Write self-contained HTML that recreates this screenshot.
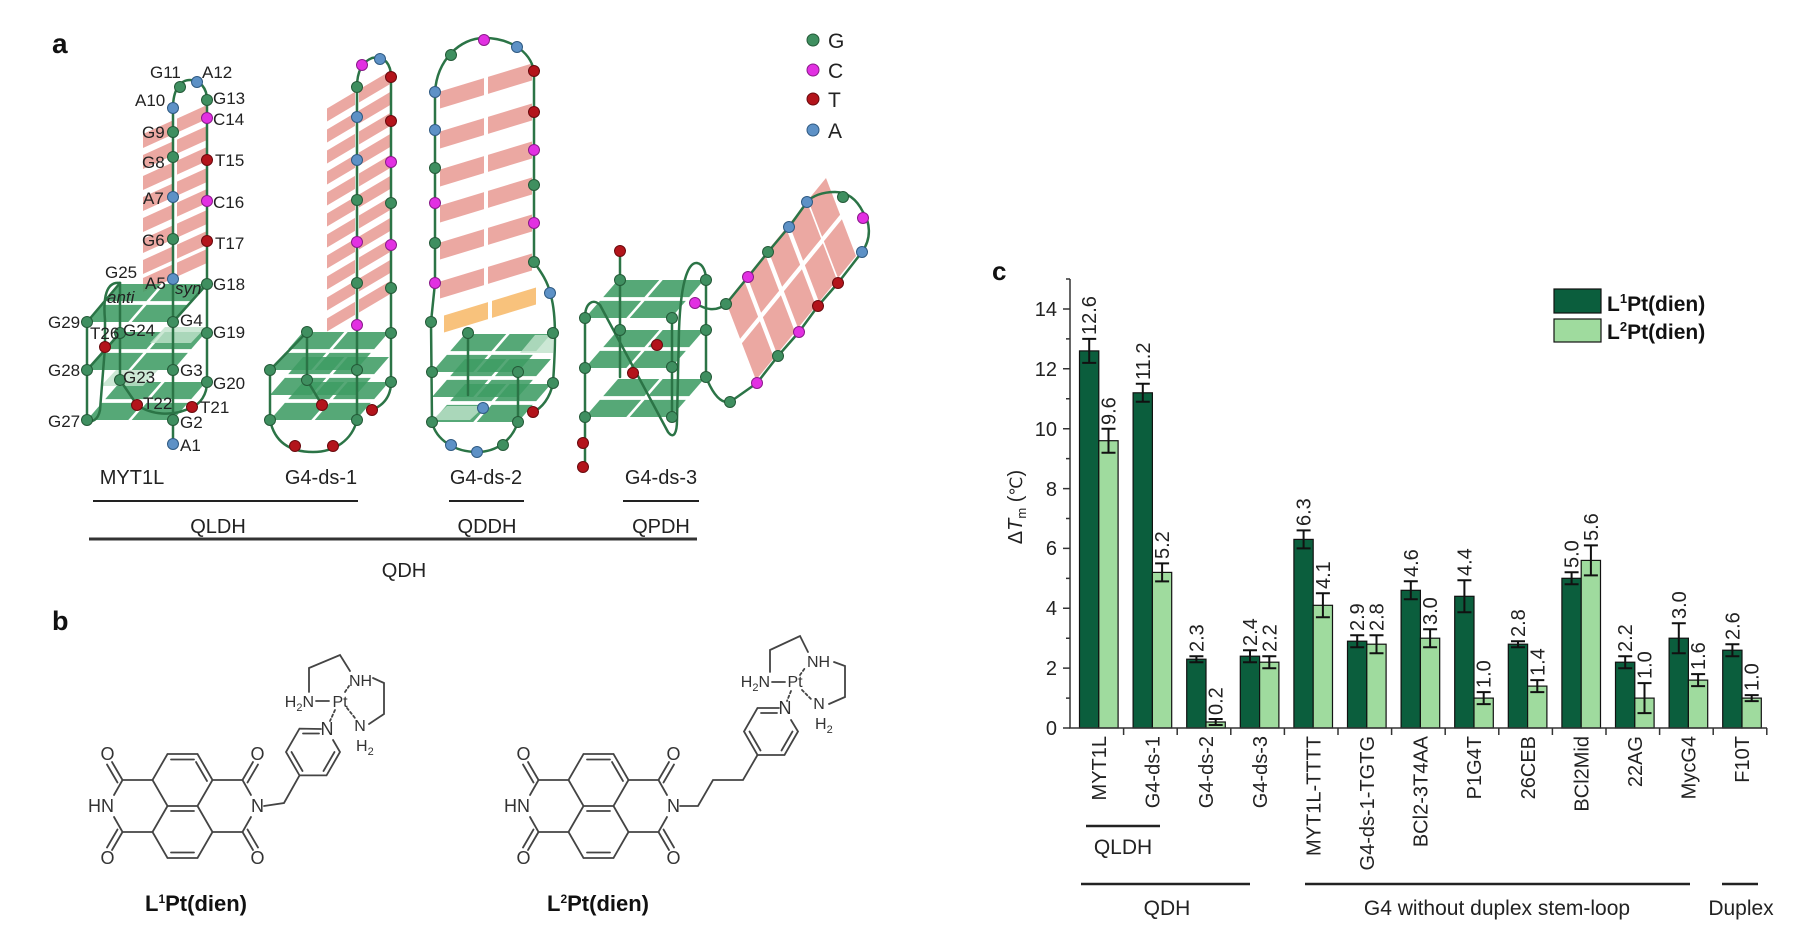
<!DOCTYPE html>
<html><head><meta charset="utf-8">
<style>
html,body{margin:0;padding:0;background:#fff;}
svg{display:block;font-family:"Liberation Sans","DejaVu Sans","Noto Sans CJK SC",sans-serif;}
.s{fill:none;stroke:#2b7446;stroke-width:2.5;stroke-linejoin:round;stroke-linecap:round}
.g{fill:#3f8f60;stroke:#245a38;stroke-width:1}
.c{fill:#e230e2;stroke:#8a1a8a;stroke-width:1}
.t{fill:#b3141b;stroke:#6a0a0e;stroke-width:1}
.a{fill:#5d91c6;stroke:#2f5a82;stroke-width:1}
.pk{fill:#eba8a2}
.lb{font-size:17px;fill:#222}
.bd{fill:none;stroke:#444;stroke-width:1.8;stroke-linecap:round}
.at{font-size:18px;fill:#333}
.pt{font-size:16px;fill:#333}
.d{fill:#0b5e3d;stroke:#111;stroke-width:1.2}
.l{fill:#9fdb9e;stroke:#111;stroke-width:1.2}
.vl{font-size:20px;fill:#222}
.cl{font-size:20px;fill:#222}
.eb{fill:none;stroke:#111;stroke-width:2}
</style></head>
<body>
<svg width="1816" height="941" viewBox="0 0 1816 941" xmlns="http://www.w3.org/2000/svg">
<defs>
<g id="tet">
<polygon points="0,0 41.3,0 56.2,-17.1 14.9,-17.1"/>
<polygon points="44.7,0 86,0 100.9,-17.1 59.6,-17.1"/>
<polygon points="18.2,-20.9 59.4,-20.9 74.3,-38 33,-38"/>
<polygon points="62.9,-20.9 104.2,-20.9 119,-38 77.7,-38"/>
</g>
<g id="bM"><polygon points="143,22 173,8.4 173,22.4 143,36"/><polygon points="177,6.6 207,-7 207,7 177,20.6"/></g>
<g id="bD1"><polygon points="327,31.5 355,14.9 355,27.9 327,44.5"/><polygon points="359,12.5 391,-6.5 391,6.5 359,25.5"/></g>
<g id="bD2"><polygon points="440,19.5 484,6.1 484,23.1 440,36.5"/><polygon points="488,4.9 532,-8.5 532,8.5 488,21.9"/></g>
<g id="bD3"><polygon points="0,0 18,-22 32.1,14.7 14.1,36.7"/><polygon points="15.9,41.3 33.9,19.3 48,56 30,78"/></g>
</defs>

<!-- ============ PANEL A ============ -->
<text x="52" y="53" font-size="28" font-weight="bold" fill="#111">a</text>

<!-- pink duplexes -->
<g class="pk">
<use href="#bM" transform="translate(0,112)"/>
<use href="#bM" transform="translate(0,133)"/>
<use href="#bM" transform="translate(0,154)"/>
<use href="#bM" transform="translate(0,175)"/>
<use href="#bM" transform="translate(0,196)"/>
<use href="#bM" transform="translate(0,217)"/>
<use href="#bM" transform="translate(0,238)"/>
<use href="#bM" transform="translate(0,256)"/>
<use href="#bD1" transform="translate(0,77)"/>
<use href="#bD1" transform="translate(0,98)"/>
<use href="#bD1" transform="translate(0,119)"/>
<use href="#bD1" transform="translate(0,140)"/>
<use href="#bD1" transform="translate(0,161)"/>
<use href="#bD1" transform="translate(0,182)"/>
<use href="#bD1" transform="translate(0,203)"/>
<use href="#bD1" transform="translate(0,224)"/>
<use href="#bD1" transform="translate(0,245)"/>
<use href="#bD1" transform="translate(0,266)"/>
<use href="#bD1" transform="translate(0,287)"/>
<use href="#bD2" transform="translate(0,72)"/>
<use href="#bD2" transform="translate(0,112)"/>
<use href="#bD2" transform="translate(0,150)"/>
<use href="#bD2" transform="translate(0,186)"/>
<use href="#bD2" transform="translate(0,223)"/>
<use href="#bD2" transform="translate(0,262)"/>
<use href="#bD3" transform="translate(726,302)"/>
<use href="#bD3" transform="translate(747,276)"/>
<use href="#bD3" transform="translate(768,250)"/>
<use href="#bD3" transform="translate(789,224)"/>
<use href="#bD3" transform="translate(808,200)"/>
</g>
<use href="#bD2" transform="translate(4,296)" fill="#f8c27c"/>

<!-- tetrads -->
<g fill="#3f9c64" fill-opacity="0.88">
<use href="#tet" transform="translate(87,322)"/>
<use href="#tet" transform="translate(87,370)"/>
<use href="#tet" transform="translate(87,420)"/>
<use href="#tet" transform="translate(270,370)"/>
<use href="#tet" transform="translate(270,395)"/>
<use href="#tet" transform="translate(270,420)"/>
<use href="#tet" transform="translate(432,372)"/>
<use href="#tet" transform="translate(432,397)"/>
<use href="#tet" transform="translate(432,422)"/>
<use href="#tet" transform="translate(585,318)"/>
<use href="#tet" transform="translate(585,368)"/>
<use href="#tet" transform="translate(585,417)"/>
</g>
<g fill="#bfe2cb" fill-opacity="0.8">
<polygon points="101,386 143,386 158,370 116,370"/>
<polygon points="150,343 191,343 206,327 165,327"/>
<polygon points="520,353 553,353 553,335 535,335"/>
<polygon points="432,420 470,420 485,406 447,406"/>
</g>

<!-- strands -->
<g class="s">
<path d="M173,444 L173,108 C173,90 180,80 190,80 C200,80 207,88 207,100 L207,382 C207,395 200,404 192,407"/>
<path d="M192,407 C172,418 150,414 137,405 L120,380 L120,283"/>
<path d="M120,283 C106,281 103,298 105,320 L105,347 L100,410 C98,420 92,423 87,420 L87,322"/>
<path d="M87,322 L120,283 M87,370 L120,333 M173,322 L207,284"/>
<path d="M357,420 L357,87 C357,72 362,62 372,58 C385,55 391,65 391,77 L391,382 C391,396 384,405 372,410"/>
<path d="M270,370 L270,420 C275,444 292,452 313,452 C335,452 352,440 357,420"/>
<path d="M270,370 L307,332 L307,380 M307,380 L322,405"/>
<path d="M432,422 L431,322 L435,283 L435,92 C437,60 460,38 484,38 C508,38 530,50 534,71 L534,262 C541,272 548,282 550,293 C556,310 556,340 553,383 C550,398 542,408 533,412"/>
<path d="M432,422 C436,440 455,452 477,452 C497,452 512,440 518,422 L518,372 M468,333 L468,395"/>
<path d="M620,251 L620,377 M585,318 L585,467 M672,318 L672,417 M706,280 L706,377"/>
<path d="M585,318 C585,303 593,298 600,305 L668,432 C674,440 677,432 677,420 L679,330 C681,275 690,262 697,263 C703,264 706,272 706,280"/>
<path d="M706,377 C712,392 720,404 730,402 L757,383 L778,356 L799,332 L818,306 L838,283 L862,252 C872,238 870,222 863,212 C856,198 846,192 835,192 C822,192 812,196 807,202 L789,227 L768,252 L748,277 L726,304 C716,312 706,310 695,303"/>
</g>

<!-- nodes MYT1L -->
<g>
<circle cx="173" cy="444" r="5.5" class="a"/><circle cx="173" cy="420" r="5.5" class="g"/>
<circle cx="173" cy="370" r="5.5" class="g"/><circle cx="173" cy="322" r="5.5" class="g"/>
<circle cx="173" cy="279" r="5.5" class="a"/><circle cx="173" cy="239" r="5.5" class="g"/>
<circle cx="173" cy="197" r="5.5" class="a"/><circle cx="173" cy="157" r="5.5" class="g"/>
<circle cx="173" cy="132" r="5.5" class="g"/><circle cx="173" cy="108" r="5.5" class="a"/>
<circle cx="180" cy="87" r="5.5" class="g"/><circle cx="197" cy="82" r="5.5" class="a"/>
<circle cx="207" cy="100" r="5.5" class="g"/><circle cx="207" cy="118" r="5.5" class="c"/>
<circle cx="207" cy="160" r="5.5" class="t"/><circle cx="207" cy="201" r="5.5" class="c"/>
<circle cx="207" cy="241" r="5.5" class="t"/><circle cx="207" cy="284" r="5.5" class="g"/>
<circle cx="207" cy="333" r="5.5" class="g"/><circle cx="207" cy="382" r="5.5" class="g"/>
<circle cx="192" cy="407" r="5.5" class="t"/><circle cx="137" cy="405" r="5.5" class="t"/>
<circle cx="120" cy="380" r="5.5" class="g"/><circle cx="120" cy="333" r="5.5" class="g"/>
<circle cx="105" cy="347" r="5.5" class="t"/>
<circle cx="87" cy="420" r="5.5" class="g"/><circle cx="87" cy="370" r="5.5" class="g"/>
<circle cx="87" cy="322" r="5.5" class="g"/>
</g>
<!-- nodes G4-ds-1 -->
<g>
<circle cx="357" cy="87" r="5.5" class="g"/><circle cx="357" cy="117" r="5.5" class="a"/>
<circle cx="357" cy="160" r="5.5" class="a"/><circle cx="357" cy="200" r="5.5" class="g"/>
<circle cx="357" cy="242" r="5.5" class="c"/><circle cx="357" cy="283" r="5.5" class="g"/>
<circle cx="357" cy="325" r="5.5" class="c"/><circle cx="357" cy="370" r="5.5" class="g"/>
<circle cx="357" cy="420" r="5.5" class="g"/>
<circle cx="362" cy="65" r="5.5" class="c"/><circle cx="380" cy="59" r="5.5" class="a"/>
<circle cx="391" cy="77" r="5.5" class="t"/><circle cx="391" cy="121" r="5.5" class="t"/>
<circle cx="391" cy="162" r="5.5" class="c"/><circle cx="391" cy="203" r="5.5" class="g"/>
<circle cx="391" cy="245" r="5.5" class="c"/><circle cx="391" cy="288" r="5.5" class="g"/>
<circle cx="391" cy="333" r="5.5" class="g"/><circle cx="391" cy="382" r="5.5" class="g"/>
<circle cx="270" cy="370" r="5.5" class="g"/><circle cx="270" cy="420" r="5.5" class="g"/>
<circle cx="307" cy="332" r="5.5" class="g"/><circle cx="307" cy="380" r="5.5" class="g"/>
<circle cx="295" cy="446" r="5.5" class="t"/><circle cx="333" cy="446" r="5.5" class="t"/>
<circle cx="322" cy="405" r="5.5" class="t"/><circle cx="372" cy="410" r="5.5" class="t"/>
</g>
<!-- nodes G4-ds-2 -->
<g>
<circle cx="435" cy="92" r="5.5" class="a"/><circle cx="435" cy="130" r="5.5" class="a"/>
<circle cx="435" cy="168" r="5.5" class="g"/><circle cx="435" cy="203" r="5.5" class="c"/>
<circle cx="435" cy="243" r="5.5" class="g"/><circle cx="435" cy="283" r="5.5" class="c"/>
<circle cx="431" cy="322" r="5.5" class="g"/><circle cx="432" cy="372" r="5.5" class="g"/>
<circle cx="432" cy="422" r="5.5" class="g"/>
<circle cx="451" cy="55" r="5.5" class="g"/><circle cx="484" cy="40" r="5.5" class="c"/>
<circle cx="517" cy="47" r="5.5" class="a"/><circle cx="534" cy="71" r="5.5" class="t"/>
<circle cx="534" cy="112" r="5.5" class="t"/><circle cx="534" cy="150" r="5.5" class="c"/>
<circle cx="534" cy="185" r="5.5" class="g"/><circle cx="534" cy="223" r="5.5" class="c"/>
<circle cx="534" cy="262" r="5.5" class="g"/><circle cx="550" cy="293" r="5.5" class="a"/>
<circle cx="553" cy="333" r="5.5" class="g"/><circle cx="553" cy="383" r="5.5" class="g"/>
<circle cx="533" cy="412" r="5.5" class="t"/><circle cx="518" cy="422" r="5.5" class="g"/>
<circle cx="503" cy="445" r="5.5" class="g"/><circle cx="477" cy="452" r="5.5" class="a"/>
<circle cx="451" cy="445" r="5.5" class="a"/><circle cx="468" cy="333" r="5.5" class="g"/>
<circle cx="518" cy="372" r="5.5" class="g"/><circle cx="483" cy="408" r="5.5" class="a"/>
</g>
<!-- nodes G4-ds-3 -->
<g>
<circle cx="620" cy="251" r="5.5" class="t"/><circle cx="620" cy="280" r="5.5" class="g"/>
<circle cx="585" cy="318" r="5.5" class="g"/><circle cx="585" cy="368" r="5.5" class="g"/>
<circle cx="585" cy="417" r="5.5" class="g"/><circle cx="583" cy="443" r="5.5" class="t"/>
<circle cx="583" cy="467" r="5.5" class="t"/><circle cx="620" cy="330" r="5.5" class="g"/>
<circle cx="633" cy="373" r="5.5" class="t"/><circle cx="672" cy="318" r="5.5" class="g"/>
<circle cx="672" cy="367" r="5.5" class="g"/><circle cx="672" cy="417" r="5.5" class="g"/>
<circle cx="706" cy="280" r="5.5" class="g"/><circle cx="706" cy="330" r="5.5" class="g"/>
<circle cx="706" cy="377" r="5.5" class="g"/><circle cx="657" cy="345" r="5.5" class="t"/>
<circle cx="695" cy="303" r="5.5" class="c"/><circle cx="726" cy="304" r="5.5" class="g"/>
<circle cx="748" cy="277" r="5.5" class="c"/><circle cx="768" cy="252" r="5.5" class="g"/>
<circle cx="789" cy="227" r="5.5" class="a"/><circle cx="807" cy="202" r="5.5" class="a"/>
<circle cx="843" cy="197" r="5.5" class="g"/><circle cx="863" cy="218" r="5.5" class="c"/>
<circle cx="862" cy="252" r="5.5" class="a"/><circle cx="838" cy="283" r="5.5" class="t"/>
<circle cx="818" cy="306" r="5.5" class="t"/><circle cx="799" cy="332" r="5.5" class="c"/>
<circle cx="778" cy="356" r="5.5" class="g"/><circle cx="757" cy="383" r="5.5" class="c"/>
<circle cx="730" cy="402" r="5.5" class="g"/>
</g>

<!-- MYT1L labels -->
<g class="lb">
<text x="150" y="78">G11</text><text x="202" y="78">A12</text>
<text x="135" y="106">A10</text><text x="213" y="104">G13</text>
<text x="213" y="125">C14</text><text x="142" y="138">G9</text>
<text x="215" y="166">T15</text><text x="142" y="168">G8</text>
<text x="143" y="204">A7</text><text x="213" y="208">C16</text>
<text x="142" y="246">G6</text><text x="215" y="249">T17</text>
<text x="105" y="278">G25</text><text x="145" y="289">A5</text>
<text x="175" y="294" font-style="italic">syn</text><text x="213" y="290">G18</text>
<text x="107" y="303" font-style="italic">anti</text>
<text x="48" y="328">G29</text><text x="180" y="326">G4</text>
<text x="90" y="339">T26</text><text x="123" y="336">G24</text>
<text x="213" y="338">G19</text><text x="48" y="376">G28</text>
<text x="180" y="376">G3</text><text x="123" y="383">G23</text>
<text x="213" y="389">G20</text><text x="143" y="409">T22</text>
<text x="200" y="413">T21</text><text x="48" y="427">G27</text>
<text x="180" y="428">G2</text><text x="180" y="451">A1</text>
</g>

<!-- panel a legend -->
<circle cx="813" cy="40" r="6" class="g"/><circle cx="813" cy="70" r="6" class="c"/>
<circle cx="813" cy="99" r="6" class="t"/><circle cx="813" cy="130" r="6" class="a"/>
<g font-size="21" fill="#222">
<text x="828" y="48">G</text><text x="828" y="78">C</text>
<text x="828" y="107">T</text><text x="828" y="138">A</text>
</g>

<!-- panel a names -->
<g font-size="20" fill="#222" text-anchor="middle">
<text x="132" y="484">MYT1L</text><text x="321" y="484">G4-ds-1</text>
<text x="486" y="484">G4-ds-2</text><text x="661" y="484">G4-ds-3</text>
<text x="218" y="533">QLDH</text><text x="487" y="533">QDDH</text>
<text x="661" y="533">QPDH</text><text x="404" y="577">QDH</text>
</g>
<g stroke="#222" stroke-width="2">
<line x1="93" y1="501" x2="358" y2="501"/><line x1="449" y1="501" x2="524" y2="501"/>
<line x1="623" y1="501" x2="699" y2="501"/>
</g>
<line x1="89" y1="539" x2="697" y2="539" stroke="#333" stroke-width="3"/>

<!-- ============ PANEL B ============ -->
<text x="52" y="630" font-size="27" font-weight="bold" fill="#111">b</text>

<!-- L1 -->
<g class="bd">
<path d="M167.5,754 L197.5,754 L212.5,780 L197.5,806 L167.5,806 L152.5,780 Z"/>
<path d="M167.5,806 L152.5,832 L167.5,858 L197.5,858 L212.5,832 L197.5,806"/>
<path d="M171,759.5 L194,759.5 M171,852.5 L194,852.5 M171,811 L194,811 M207,781 L196,762"/>
<path d="M152.5,780 L122.5,780 L114,795 M114,817 L122.5,832 L152.5,832"/>
<path d="M122.5,780 L112,762 M117.5,782.5 L107,764.5 M122.5,832 L112,850 M117.5,829.5 L107,847.5"/>
<path d="M212.5,780 L242.5,780 L251,795 M251,817 L242.5,832 L212.5,832"/>
<path d="M242.5,780 L253,762 M247.5,782.5 L258,764.5 M242.5,832 L253,850 M247.5,829.5 L258,847.5"/>
<path d="M264,806 L284,803 L299.5,775.4"/>
<path d="M321,729 L299.5,728.6 L286,752 L299.5,775.4 L326.5,775.4 L340,752 L333,740"/>
<path d="M303,733.5 L319,733.5 M291.5,752 L302.5,771 M323.5,771 L334.5,752"/>
<path d="M316,701 L329,701"/>
<path d="M309,692 L309,668 L340,655 L350,671 M373,678 L384,683 L384,714 L369,724"/>
<path d="M335,710 L330,721 M347,708 L355,718 M345,692 L349,686" stroke-dasharray="2.5,2.5"/>
</g>
<g class="at" text-anchor="middle">
<text x="107.5" y="760">O</text><text x="107.5" y="864">O</text>
<text x="257.5" y="760">O</text><text x="257.5" y="864">O</text>
<text x="257.5" y="812">N</text><text x="114" y="812" text-anchor="end">HN</text>
<text x="327" y="735">N</text>
</g>
<g class="pt">
<text x="340" y="707" text-anchor="middle">Pt</text>
<text x="314" y="707" text-anchor="end">H<tspan font-size="11" dy="4">2</tspan><tspan dy="-4">N</tspan></text>
<text x="349" y="686">NH</text>
<text x="360" y="731" text-anchor="middle">N</text>
<text x="356" y="751">H<tspan font-size="11" dy="4">2</tspan></text>
</g>
<text x="196" y="911" font-size="22" font-weight="bold" fill="#111" text-anchor="middle">L<tspan font-size="12" dy="-8">1</tspan><tspan dy="8">Pt(dien)</tspan></text>

<!-- L2 -->
<g class="bd">
<path d="M583.5,754 L613.5,754 L628.5,780 L613.5,806 L583.5,806 L568.5,780 Z"/>
<path d="M583.5,806 L568.5,832 L583.5,858 L613.5,858 L628.5,832 L613.5,806"/>
<path d="M587,759.5 L610,759.5 M587,852.5 L610,852.5 M587,811 L610,811 M623,781 L612,762"/>
<path d="M568.5,780 L538.5,780 L530,795 M530,817 L538.5,832 L568.5,832"/>
<path d="M538.5,780 L528,762 M533.5,782.5 L523,764.5 M538.5,832 L528,850 M533.5,829.5 L523,847.5"/>
<path d="M628.5,780 L658.5,780 L667,795 M667,817 L658.5,832 L628.5,832"/>
<path d="M658.5,780 L669,762 M663.5,782.5 L674,764.5 M658.5,832 L669,850 M663.5,829.5 L674,847.5"/>
<path d="M680,806 L698,806 L713,780 L743,780 L757.5,755"/>
<path d="M779,708 L757.5,708 L744,731.5 L757.5,755 L784.5,755 L798,731.5 L791,720"/>
<path d="M761,713 L777,713 M749.5,731.5 L760.5,750.5 M781.5,750.5 L792.5,731.5"/>
<path d="M772,682 L785,682"/>
<path d="M770,672 L770,650 L800,636 L808,652 M834,662 L845,666 L845,697 L829,704"/>
<path d="M791,691 L787,701 M802,690 L811,699 M800,675 L805,668" stroke-dasharray="2.5,2.5"/>
</g>
<g class="at" text-anchor="middle">
<text x="523.5" y="760">O</text><text x="523.5" y="864">O</text>
<text x="673.5" y="760">O</text><text x="673.5" y="864">O</text>
<text x="673.5" y="812">N</text><text x="530" y="812" text-anchor="end">HN</text>
<text x="785" y="714">N</text>
</g>
<g class="pt">
<text x="795" y="687" text-anchor="middle">Pt</text>
<text x="770" y="687" text-anchor="end">H<tspan font-size="11" dy="4">2</tspan><tspan dy="-4">N</tspan></text>
<text x="807" y="667">NH</text>
<text x="819" y="709" text-anchor="middle">N</text>
<text x="815" y="729">H<tspan font-size="11" dy="4">2</tspan></text>
</g>
<text x="598" y="911" font-size="22" font-weight="bold" fill="#111" text-anchor="middle">L<tspan font-size="12" dy="-8">2</tspan><tspan dy="8">Pt(dien)</tspan></text>

<!-- ============ PANEL C ============ -->
<text x="992" y="280" font-size="26" font-weight="bold" fill="#111">c</text>

<!-- bars -->
<rect x="1079.5" y="350.9" width="19.3" height="377.1" class="d"/>
<rect x="1098.8" y="440.7" width="19.3" height="287.3" class="l"/>
<rect x="1133.1" y="392.8" width="19.3" height="335.2" class="d"/>
<rect x="1152.4" y="572.4" width="19.3" height="155.6" class="l"/>
<rect x="1186.7" y="659.2" width="19.3" height="68.8" class="d"/>
<rect x="1206" y="722" width="19.3" height="6" class="l"/>
<rect x="1240.3" y="656.2" width="19.3" height="71.8" class="d"/>
<rect x="1259.6" y="662.2" width="19.3" height="65.8" class="l"/>
<rect x="1293.9" y="539.4" width="19.3" height="188.6" class="d"/>
<rect x="1313.2" y="605.3" width="19.3" height="122.7" class="l"/>
<rect x="1347.5" y="641.2" width="19.3" height="86.8" class="d"/>
<rect x="1366.8" y="644.2" width="19.3" height="83.8" class="l"/>
<rect x="1401.1" y="590.3" width="19.3" height="137.7" class="d"/>
<rect x="1420.4" y="638.2" width="19.3" height="89.8" class="l"/>
<rect x="1454.7" y="596.3" width="19.3" height="131.7" class="d"/>
<rect x="1474" y="698.1" width="19.3" height="29.9" class="l"/>
<rect x="1508.3" y="644.2" width="19.3" height="83.8" class="d"/>
<rect x="1527.6" y="686.1" width="19.3" height="41.9" class="l"/>
<rect x="1561.9" y="578.3" width="19.3" height="149.7" class="d"/>
<rect x="1581.2" y="560.4" width="19.3" height="167.6" class="l"/>
<rect x="1615.5" y="662.2" width="19.3" height="65.8" class="d"/>
<rect x="1634.8" y="698.1" width="19.3" height="29.9" class="l"/>
<rect x="1669.1" y="638.2" width="19.3" height="89.8" class="d"/>
<rect x="1688.4" y="680.1" width="19.3" height="47.9" class="l"/>
<rect x="1722.7" y="650.2" width="19.3" height="77.8" class="d"/>
<rect x="1742" y="698.1" width="19.3" height="29.9" class="l"/>

<!-- error bars -->
<path class="eb" d="
M1082.2,338.9H1096.2M1089.2,338.9V362.9M1082.2,362.9H1096.2
M1101.5,428.7H1115.5M1108.5,428.7V452.7M1101.5,452.7H1115.5
M1135.8,383.8H1149.8M1142.8,383.8V401.8M1135.8,401.8H1149.8
M1155.1,563.4H1169.1M1162.1,563.4V581.4M1155.1,581.4H1169.1
M1189.4,656.2H1203.4M1196.4,656.2V662.2M1189.4,662.2H1203.4
M1208.7,719H1222.7M1215.7,719V725M1208.7,725H1222.7
M1243,650.2H1257M1250,650.2V662.2M1243,662.2H1257
M1262.3,656.2H1276.3M1269.3,656.2V668.2M1262.3,668.2H1276.3
M1296.6,530.4H1310.6M1303.6,530.4V548.4M1296.6,548.4H1310.6
M1315.9,593.3H1329.9M1322.9,593.3V617.3M1315.9,617.3H1329.9
M1350.2,635.2H1364.2M1357.2,635.2V647.2M1350.2,647.2H1364.2
M1369.5,635.2H1383.5M1376.5,635.2V653.2M1369.5,653.2H1383.5
M1403.8,581.3H1417.8M1410.8,581.3V599.3M1403.8,599.3H1417.8
M1423.1,629.2H1437.1M1430.1,629.2V647.2M1423.1,647.2H1437.1
M1457.4,580.3H1471.4M1464.4,580.3V612.3M1457.4,612.3H1471.4
M1476.7,692.1H1490.7M1483.7,692.1V704.1M1476.7,704.1H1490.7
M1511,641.2H1525M1518,641.2V647.2M1511,647.2H1525
M1530.3,680.1H1544.3M1537.3,680.1V692.1M1530.3,692.1H1544.3
M1564.6,572.3H1578.6M1571.6,572.3V584.3M1564.6,584.3H1578.6
M1583.9,545.4H1597.9M1590.9,545.4V575.4M1583.9,575.4H1597.9
M1618.2,656.2H1632.2M1625.2,656.2V668.2M1618.2,668.2H1632.2
M1637.5,683.1H1651.5M1644.5,683.1V713.1M1637.5,713.1H1651.5
M1671.8,623.2H1685.8M1678.8,623.2V653.2M1671.8,653.2H1685.8
M1691.1,674.1H1705.1M1698.1,674.1V686.1M1691.1,686.1H1705.1
M1725.4,644.2H1739.4M1732.4,644.2V656.2M1725.4,656.2H1739.4
M1744.7,695.1H1758.7M1751.7,695.1V701.1M1744.7,701.1H1758.7"/>

<!-- axes -->
<g stroke="#333" stroke-width="1.5" fill="none">
<path d="M1070,279 V728 H1767"/>
<path d="M1063,728H1070M1063,668.1H1070M1063,608.3H1070M1063,548.4H1070M1063,488.6H1070M1063,428.7H1070M1063,368.8H1070M1063,309H1070"/>
<path d="M1066,698.1H1070M1066,638.2H1070M1066,578.4H1070M1066,518.5H1070M1066,458.6H1070M1066,398.8H1070M1066,338.9H1070M1066,279H1070"/>
<path d="M1123.6,728V735M1177.2,728V735M1230.8,728V735M1284.4,728V735M1338,728V735M1391.6,728V735M1445.2,728V735M1498.8,728V735M1552.4,728V735M1606,728V735M1659.6,728V735M1713.2,728V735M1766.8,728V735"/>
</g>
<g font-size="20" fill="#222" text-anchor="end">
<text x="1057" y="735">0</text><text x="1057" y="675">2</text>
<text x="1057" y="615">4</text><text x="1057" y="555">6</text>
<text x="1057" y="496">8</text><text x="1057" y="436">10</text>
<text x="1057" y="376">12</text><text x="1057" y="316">14</text>
</g>
<text transform="translate(1022,507) rotate(-90)" text-anchor="middle" font-size="20" fill="#222">Δ<tspan font-style="italic">T</tspan><tspan font-size="13" dy="4">m</tspan><tspan dy="-4"> (</tspan><tspan font-family="DejaVu Sans,Noto Sans CJK SC,sans-serif" font-size="17">℃</tspan><tspan>)</tspan></text>

<!-- value labels -->
<g class="vl">
<text transform="translate(1096.2,335) rotate(-90)">12.6</text>
<text transform="translate(1115.5,425) rotate(-90)">9.6</text>
<text transform="translate(1149.8,380) rotate(-90)">11.2</text>
<text transform="translate(1169.1,559) rotate(-90)">5.2</text>
<text transform="translate(1203.4,652) rotate(-90)">2.3</text>
<text transform="translate(1222.7,715) rotate(-90)">0.2</text>
<text transform="translate(1257,646) rotate(-90)">2.4</text>
<text transform="translate(1276.3,652) rotate(-90)">2.2</text>
<text transform="translate(1310.6,526) rotate(-90)">6.3</text>
<text transform="translate(1329.9,589) rotate(-90)">4.1</text>
<text transform="translate(1364.2,631) rotate(-90)">2.9</text>
<text transform="translate(1383.5,631) rotate(-90)">2.8</text>
<text transform="translate(1417.8,577) rotate(-90)">4.6</text>
<text transform="translate(1437.1,625) rotate(-90)">3.0</text>
<text transform="translate(1471.4,576) rotate(-90)">4.4</text>
<text transform="translate(1490.7,688) rotate(-90)">1.0</text>
<text transform="translate(1525,637) rotate(-90)">2.8</text>
<text transform="translate(1544.3,676) rotate(-90)">1.4</text>
<text transform="translate(1578.6,568) rotate(-90)">5.0</text>
<text transform="translate(1597.9,541) rotate(-90)">5.6</text>
<text transform="translate(1632.2,652) rotate(-90)">2.2</text>
<text transform="translate(1651.5,679) rotate(-90)">1.0</text>
<text transform="translate(1685.8,619) rotate(-90)">3.0</text>
<text transform="translate(1705.1,670) rotate(-90)">1.6</text>
<text transform="translate(1739.4,640) rotate(-90)">2.6</text>
<text transform="translate(1758.7,691) rotate(-90)">1.0</text>
</g>

<!-- category labels -->
<g class="cl" text-anchor="end">
<text transform="translate(1106,736) rotate(-90)">MYT1L</text>
<text transform="translate(1159.6,736) rotate(-90)">G4-ds-1</text>
<text transform="translate(1213.2,736) rotate(-90)">G4-ds-2</text>
<text transform="translate(1266.8,736) rotate(-90)">G4-ds-3</text>
<text transform="translate(1320.4,736) rotate(-90)">MYT1L-TTTT</text>
<text transform="translate(1374,736) rotate(-90)">G4-ds-1-TGTG</text>
<text transform="translate(1427.6,736) rotate(-90)">BCl2-3T4AA</text>
<text transform="translate(1481.2,736) rotate(-90)">P1G4T</text>
<text transform="translate(1534.8,736) rotate(-90)">26CEB</text>
<text transform="translate(1588.4,736) rotate(-90)">BCl2Mid</text>
<text transform="translate(1642,736) rotate(-90)">22AG</text>
<text transform="translate(1695.6,736) rotate(-90)">MycG4</text>
<text transform="translate(1749.2,736) rotate(-90)">F10T</text>
</g>

<!-- group lines -->
<g stroke="#222" stroke-width="2.5">
<line x1="1086" y1="826" x2="1160" y2="826"/>
<line x1="1081" y1="884" x2="1250" y2="884"/>
<line x1="1305" y1="884" x2="1690" y2="884"/>
<line x1="1722" y1="884" x2="1758" y2="884"/>
</g>
<g font-size="21" fill="#222" text-anchor="middle">
<text x="1123" y="854">QLDH</text>
<text x="1167" y="915">QDH</text>
<text x="1497" y="915">G4 without duplex stem-loop</text>
<text x="1741" y="915">Duplex</text>
</g>

<!-- legend -->
<rect x="1554" y="289" width="47" height="24" class="d" stroke-width="1.8"/>
<rect x="1554" y="319" width="47" height="23" class="l" stroke-width="1.8"/>
<g font-size="21" font-weight="bold" fill="#111">
<text x="1607" y="311">L<tspan font-size="13" dy="-8">1</tspan><tspan dy="8">Pt(dien)</tspan></text>
<text x="1607" y="339">L<tspan font-size="13" dy="-8">2</tspan><tspan dy="8">Pt(dien)</tspan></text>
</g>
</svg>
</body></html>
